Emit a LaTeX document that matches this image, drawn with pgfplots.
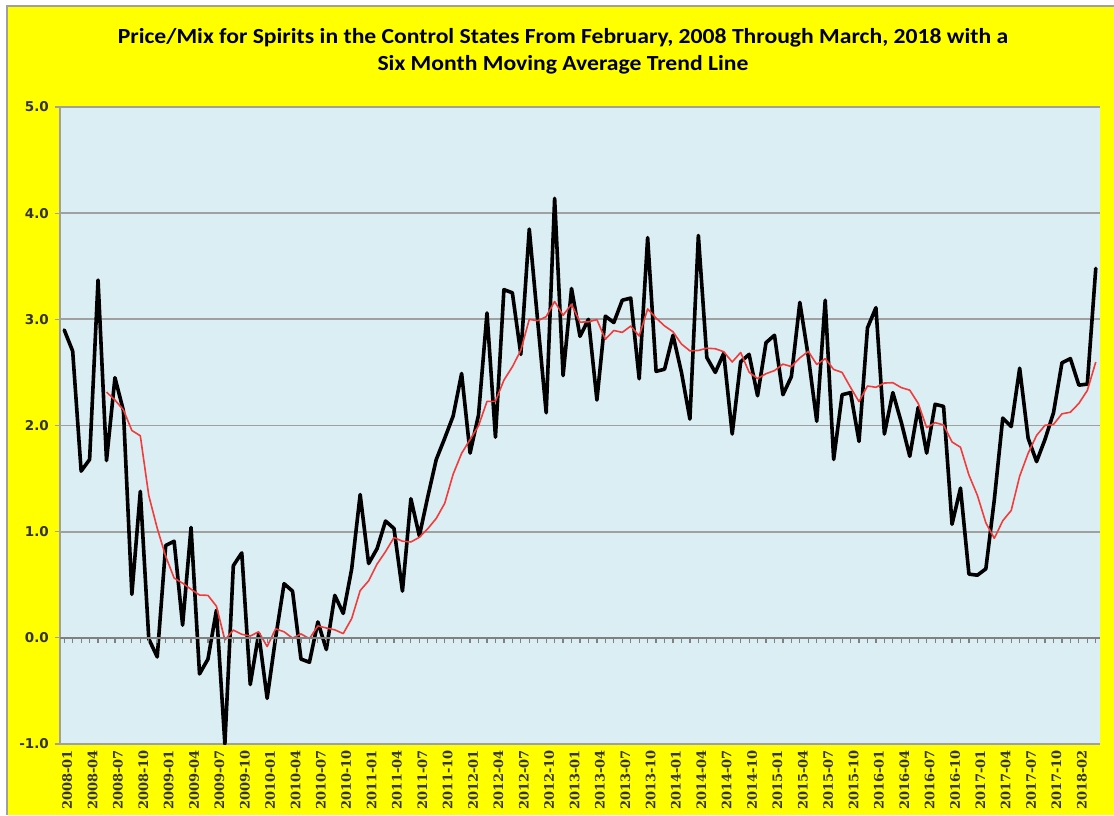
\documentclass[border=0pt]{standalone}
\usepackage{fontspec}
\usepackage{pgfplots}
\pgfplotsset{compat=1.18}
\setmainfont{DejaVu Sans}
\newfontfamily\titlefont{Carlito}[FakeStretch=1.1]
\newfontfamily\xlabfont{DejaVu Serif}
\definecolor{bgyellow}{RGB}{255,255,0}
\definecolor{plotblue}{RGB}{219,238,243}
\definecolor{gridgray}{RGB}{160,160,160}
\definecolor{trendred}{RGB}{242,60,60}
\pgfplotstableread{
x y
0 2.90
1 2.70
2 1.57
3 1.68
4 3.37
5 1.67
6 2.45
7 2.14
8 0.41
9 1.38
10 -0.01
11 -0.18
12 0.87
13 0.91
14 0.12
15 1.04
16 -0.34
17 -0.20
18 0.26
19 -1.00
20 0.68
21 0.80
22 -0.44
23 0.04
24 -0.57
25 0.00
26 0.51
27 0.44
28 -0.20
29 -0.23
30 0.15
31 -0.11
32 0.40
33 0.23
34 0.65
35 1.35
36 0.70
37 0.84
38 1.10
39 1.03
40 0.44
41 1.31
42 0.96
43 1.33
44 1.68
45 1.88
46 2.09
47 2.49
48 1.74
49 2.10
50 3.06
51 1.89
52 3.28
53 3.25
54 2.67
55 3.85
56 2.98
57 2.12
58 4.14
59 2.47
60 3.29
61 2.84
62 3.00
63 2.24
64 3.03
65 2.97
66 3.18
67 3.20
68 2.44
69 3.77
70 2.51
71 2.53
72 2.85
73 2.50
74 2.06
75 3.79
76 2.64
77 2.50
78 2.68
79 1.92
80 2.60
81 2.67
82 2.28
83 2.78
84 2.85
85 2.29
86 2.46
87 3.16
88 2.65
89 2.04
90 3.18
91 1.68
92 2.29
93 2.31
94 1.85
95 2.92
96 3.11
97 1.92
98 2.31
99 2.03
100 1.71
101 2.17
102 1.74
103 2.20
104 2.18
105 1.07
106 1.41
107 0.60
108 0.59
109 0.65
110 1.30
111 2.07
112 1.99
113 2.54
114 1.88
115 1.66
116 1.87
117 2.12
118 2.59
119 2.63
120 2.38
121 2.39
122 3.48
}\pricemix
\pgfplotstableread{
x y
5 2.315
6 2.240
7 2.147
8 1.953
9 1.903
10 1.340
11 1.032
12 0.768
13 0.563
14 0.515
15 0.458
16 0.403
17 0.400
18 0.298
19 -0.020
20 0.073
21 0.033
22 0.017
23 0.057
24 -0.082
25 0.085
26 0.057
27 -0.003
28 0.037
29 -0.008
30 0.112
31 0.093
32 0.075
33 0.040
34 0.182
35 0.445
36 0.537
37 0.695
38 0.812
39 0.945
40 0.910
41 0.903
42 0.947
43 1.028
44 1.125
45 1.267
46 1.542
47 1.738
48 1.868
49 1.997
50 2.227
51 2.228
52 2.427
53 2.553
54 2.708
55 3.000
56 2.987
57 3.025
58 3.168
59 3.038
60 3.142
61 2.973
62 2.977
63 2.997
64 2.812
65 2.895
66 2.877
67 2.937
68 2.843
69 3.098
70 3.012
71 2.938
72 2.883
73 2.767
74 2.703
75 2.707
76 2.728
77 2.723
78 2.695
79 2.598
80 2.688
81 2.502
82 2.442
83 2.488
84 2.517
85 2.578
86 2.555
87 2.637
88 2.698
89 2.575
90 2.630
91 2.528
92 2.500
93 2.358
94 2.225
95 2.372
96 2.360
97 2.400
98 2.403
99 2.357
100 2.333
101 2.208
102 1.980
103 2.027
104 2.005
105 1.845
106 1.795
107 1.533
108 1.342
109 1.083
110 0.937
111 1.103
112 1.200
113 1.523
114 1.738
115 1.907
116 2.002
117 2.010
118 2.110
119 2.125
120 2.208
121 2.330
122 2.598
}\movavg
\begin{document}
\begin{tikzpicture}[x=1pt,y=1pt]
\useasboundingbox (0,0) rectangle (1114,815);
\fill[white] (0,0) rectangle (1114,815);
\fill[bgyellow] (7,0) rectangle (1114,809);
\draw[gridgray, line width=1.5pt] (7,0) -- (7,809) -- (1114,809);
\node[anchor=base, inner sep=0pt] at (563,771) {\titlefont\bfseries\fontsize{21.5}{25}\selectfont Price/Mix for Spirits in the Control States From February, 2008 Through March, 2018 with a};
\node[anchor=base, inner sep=0pt] at (563,744) {\titlefont\bfseries\fontsize{21.5}{25}\selectfont Six Month Moving Average Trend Line};
\begin{axis}[
  at={(60pt,71pt)}, anchor=south west,
  scale only axis, width=1040pt, height=637pt,
  xmin=-0.5, xmax=122.5, ymin=-1, ymax=5,
  axis background/.style={fill=plotblue},
  axis x line*=bottom, axis y line*=left,
  axis line style={gridgray, line width=1.5pt},
  ytick={-1,0,1,2,3,4,5},
  yticklabels={-1.0,0.0,1.0,2.0,3.0,4.0,5.0},
  yticklabel style={font=\fontsize{13.5}{15}\selectfont\bfseries, text=black!80, inner sep=2pt, xshift=-4pt},
  y tick style={gridgray, line width=1.2pt},
  ymajorgrids, grid style={gridgray, line width=1.8pt},
  tick align=outside, major tick length=5pt,
  xtick={0,3,...,117,120},
  xticklabels={2008-01,2008-04,2008-07,2008-10,2009-01,2009-04,2009-07,2009-10,2010-01,2010-04,2010-07,2010-10,2011-01,2011-04,2011-07,2011-10,2012-01,2012-04,2012-07,2012-10,2013-01,2013-04,2013-07,2013-10,2014-01,2014-04,2014-07,2014-10,2015-01,2015-04,2015-07,2015-10,2016-01,2016-04,2016-07,2016-10,2017-01,2017-04,2017-07,2017-10,2018-02},
  xticklabel style={rotate=90, anchor=east, font=\xlabfont\bfseries\fontsize{13}{15}\selectfont, text=black!80, inner sep=1pt, yshift=-3pt},
  x tick style={draw=none},
]
\addplot[black, line width=3.6pt, line join=round, line cap=round] table[x=x,y=y] {\pricemix};
\addplot[trendred, line width=1.6pt, line join=round] table[x=x,y=y] {\movavg};
\end{axis}
\begin{axis}[
  at={(60pt,177.2pt)}, anchor=south west,
  scale only axis, width=1040pt, height=530.8pt,
  xmin=-0.5, xmax=122.5, ymin=0, ymax=5,
  axis x line*=bottom, axis y line=none,
  axis line style={gridgray!80!black, line width=1.5pt},
  xtick={0,...,122}, xticklabels={},
  tick align=outside, major tick length=5pt,
  x tick style={gridgray!80!black, line width=1.2pt},
]
\end{axis}
\end{tikzpicture}
\end{document}
